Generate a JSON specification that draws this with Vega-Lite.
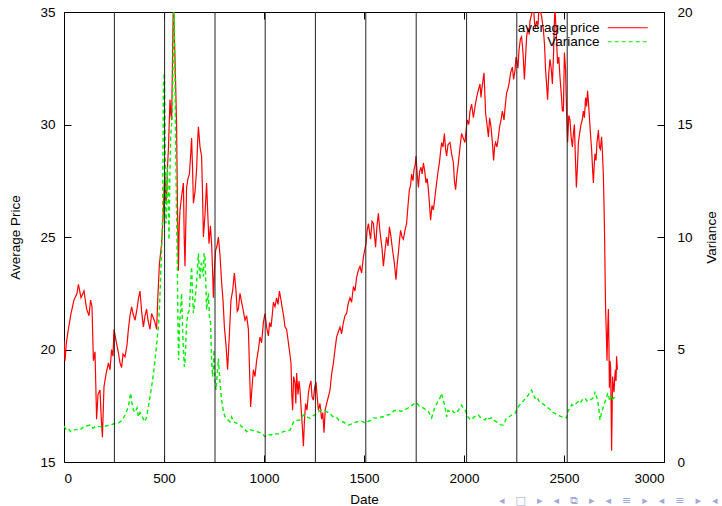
{
  "$schema": "https://vega.github.io/schema/vega-lite/v6.json",
  "width": 600,
  "height": 450,
  "autosize": "none",
  "padding": {"left": 64, "top": 12, "right": 58, "bottom": 44},
  "background": "white",
  "title": {
    "text": "◂\u2003□\u2003▸\u2003◂\u2003⧉\u2003▸\u2003◂\u2003≡\u2003▸\u2003◂\u2003≡\u2003▸\u2003◂",
    "orient": "bottom",
    "anchor": "end",
    "frame": "bounds",
    "offset": -11,
    "fontSize": 11,
    "fontWeight": "normal",
    "color": "#a3a9d6",
    "font": "DejaVu Sans"
  },
  "config": {
    "font": "Liberation Sans",
    "view": {"stroke": "black", "strokeWidth": 1},
    "axis": {
      "grid": false,
      "domain": false,
      "tickColor": "black",
      "tickSize": 7,
      "tickWidth": 1,
      "offset": -7,
      "labelFontSize": 13.5,
      "labelColor": "black",
      "titleFontSize": 13.5,
      "titleFontWeight": "normal",
      "titleColor": "black"
    },
    "legend": {
      "orient": "none",
      "legendX": 557,
      "legendY": 9,
      "title": null,
      "padding": 0,
      "rowPadding": -2,
      "symbolType": "M-4,0H4",
      "symbolSize": 100,
      "symbolStrokeWidth": 1.2,
      "labelAlign": "right",
      "labelOffset": -35,
      "labelFontSize": 13.5,
      "labelColor": "black"
    }
  },
  "datasets": {
    "price": [
      {"date":0,"price":20.4},{"date":5,"price":19.5},{"date":12,"price":20.3},{"date":20,"price":20.8},{"date":35,"price":21.6},{"date":50,"price":22.2},{"date":65,"price":22.5},{"date":72,"price":22.9},{"date":85,"price":22.3},{"date":100,"price":22.6},{"date":113,"price":21.8},{"date":125,"price":21.5},{"date":133,"price":22.2},{"date":140,"price":21.9},{"date":147,"price":19.5},{"date":155,"price":19.9},{"date":163,"price":16.9},{"date":170,"price":18.0},{"date":180,"price":18.2},{"date":186,"price":17.0},{"date":192,"price":16.1},{"date":200,"price":18.35},{"date":210,"price":18.9},{"date":222,"price":19.4},{"date":230,"price":19.1},{"date":238,"price":20.0},{"date":245,"price":19.7},{"date":250,"price":20.9},{"date":260,"price":20.4},{"date":272,"price":19.85},{"date":280,"price":19.4},{"date":288,"price":19.2},{"date":295,"price":19.8},{"date":305,"price":19.67},{"date":315,"price":20.2},{"date":322,"price":20.9},{"date":330,"price":21.5},{"date":338,"price":21.9},{"date":345,"price":21.6},{"date":355,"price":21.3},{"date":365,"price":21.8},{"date":373,"price":22.3},{"date":380,"price":22.6},{"date":388,"price":21.7},{"date":397,"price":21.0},{"date":405,"price":21.5},{"date":413,"price":21.8},{"date":420,"price":21.3},{"date":430,"price":20.9},{"date":438,"price":21.6},{"date":447,"price":21.4},{"date":455,"price":21.2},{"date":463,"price":20.9},{"date":470,"price":22.5},{"date":477,"price":23.8},{"date":483,"price":24.3},{"date":488,"price":24.7},{"date":493,"price":25.5},{"date":497,"price":26.2},{"date":501,"price":27.3},{"date":505,"price":27.7},{"date":509,"price":26.5},{"date":513,"price":26.8},{"date":518,"price":28.2},{"date":522,"price":28.9},{"date":526,"price":30.0},{"date":530,"price":31.1},{"date":534,"price":30.5},{"date":538,"price":30.2},{"date":542,"price":32.5},{"date":545,"price":34.5},{"date":547,"price":35.5},{"date":550,"price":34.8},{"date":553,"price":33.5},{"date":555,"price":32.9},{"date":559,"price":31.5},{"date":563,"price":29.9},{"date":567,"price":26.5},{"date":572,"price":23.5},{"date":576,"price":25.5},{"date":580,"price":26.2},{"date":588,"price":26.8},{"date":597,"price":27.4},{"date":601,"price":25.0},{"date":605,"price":23.7},{"date":609,"price":25.5},{"date":613,"price":27.2},{"date":620,"price":27.6},{"date":627,"price":27.8},{"date":633,"price":28.6},{"date":638,"price":29.4},{"date":643,"price":28.0},{"date":647,"price":26.5},{"date":655,"price":27.0},{"date":663,"price":28.0},{"date":668,"price":29.2},{"date":672,"price":29.9},{"date":680,"price":29.0},{"date":688,"price":28.6},{"date":693,"price":26.8},{"date":697,"price":25.0},{"date":705,"price":26.0},{"date":713,"price":27.4},{"date":719,"price":26.0},{"date":725,"price":24.7},{"date":732,"price":25.5},{"date":738,"price":24.7},{"date":743,"price":23.5},{"date":747,"price":22.3},{"date":752,"price":23.5},{"date":758,"price":24.4},{"date":765,"price":24.6},{"date":772,"price":25.0},{"date":780,"price":24.2},{"date":788,"price":23.0},{"date":795,"price":22.2},{"date":802,"price":21.0},{"date":810,"price":20.2},{"date":818,"price":19.1},{"date":826,"price":20.5},{"date":835,"price":22.2},{"date":843,"price":22.6},{"date":852,"price":23.4},{"date":860,"price":22.6},{"date":866,"price":21.7},{"date":872,"price":21.8},{"date":880,"price":22.5},{"date":888,"price":22.1},{"date":897,"price":21.7},{"date":905,"price":21.3},{"date":913,"price":21.5},{"date":922,"price":20.9},{"date":928,"price":19.0},{"date":933,"price":17.45},{"date":940,"price":18.3},{"date":947,"price":19.1},{"date":955,"price":18.8},{"date":963,"price":19.5},{"date":972,"price":20.0},{"date":980,"price":20.55},{"date":988,"price":20.3},{"date":997,"price":21.2},{"date":1005,"price":21.6},{"date":1013,"price":21.0},{"date":1022,"price":20.6},{"date":1028,"price":21.2},{"date":1035,"price":21.0},{"date":1041,"price":21.5},{"date":1047,"price":22.1},{"date":1055,"price":21.9},{"date":1063,"price":22.3},{"date":1070,"price":22.0},{"date":1077,"price":22.6},{"date":1085,"price":22.2},{"date":1092,"price":21.8},{"date":1098,"price":21.5},{"date":1105,"price":21.0},{"date":1113,"price":20.9},{"date":1122,"price":20.3},{"date":1128,"price":19.9},{"date":1135,"price":19.4},{"date":1139,"price":18.0},{"date":1143,"price":17.3},{"date":1148,"price":18.8},{"date":1155,"price":18.5},{"date":1159,"price":17.6},{"date":1163,"price":18.95},{"date":1170,"price":18.0},{"date":1175,"price":18.6},{"date":1180,"price":18.2},{"date":1187,"price":17.2},{"date":1192,"price":16.5},{"date":1197,"price":15.7},{"date":1202,"price":16.8},{"date":1208,"price":17.6},{"date":1215,"price":17.3},{"date":1222,"price":18.05},{"date":1228,"price":18.4},{"date":1235,"price":18.6},{"date":1240,"price":17.9},{"date":1247,"price":17.75},{"date":1253,"price":18.3},{"date":1260,"price":18.55},{"date":1266,"price":17.9},{"date":1272,"price":17.3},{"date":1280,"price":17.6},{"date":1288,"price":16.9},{"date":1294,"price":17.2},{"date":1300,"price":16.3},{"date":1306,"price":17.3},{"date":1313,"price":17.6},{"date":1322,"price":17.9},{"date":1330,"price":18.2},{"date":1338,"price":18.9},{"date":1347,"price":19.4},{"date":1355,"price":20.0},{"date":1363,"price":20.55},{"date":1372,"price":20.8},{"date":1380,"price":21.0},{"date":1388,"price":20.7},{"date":1397,"price":21.2},{"date":1405,"price":21.5},{"date":1413,"price":21.6},{"date":1420,"price":22.0},{"date":1430,"price":22.3},{"date":1438,"price":22.1},{"date":1447,"price":22.8},{"date":1455,"price":22.6},{"date":1463,"price":23.2},{"date":1471,"price":23.5},{"date":1480,"price":23.7},{"date":1488,"price":23.4},{"date":1497,"price":24.1},{"date":1503,"price":24.4},{"date":1510,"price":24.7},{"date":1516,"price":25.3},{"date":1522,"price":25.6},{"date":1528,"price":25.2},{"date":1533,"price":24.9},{"date":1540,"price":25.7},{"date":1547,"price":25.6},{"date":1553,"price":25.0},{"date":1558,"price":24.55},{"date":1565,"price":25.5},{"date":1572,"price":26.05},{"date":1578,"price":25.4},{"date":1583,"price":25.0},{"date":1590,"price":24.5},{"date":1597,"price":23.7},{"date":1605,"price":24.4},{"date":1613,"price":25.0},{"date":1620,"price":24.6},{"date":1627,"price":25.45},{"date":1635,"price":25.0},{"date":1643,"price":24.4},{"date":1651,"price":23.9},{"date":1660,"price":23.1},{"date":1666,"price":23.8},{"date":1672,"price":24.3},{"date":1678,"price":24.9},{"date":1683,"price":25.3},{"date":1690,"price":25.0},{"date":1697,"price":24.9},{"date":1705,"price":25.3},{"date":1713,"price":25.6},{"date":1720,"price":26.4},{"date":1727,"price":27.1},{"date":1733,"price":27.3},{"date":1738,"price":27.8},{"date":1745,"price":27.5},{"date":1750,"price":28.0},{"date":1756,"price":28.2},{"date":1760,"price":28.6},{"date":1766,"price":27.8},{"date":1772,"price":27.2},{"date":1778,"price":27.9},{"date":1785,"price":28.1},{"date":1791,"price":27.8},{"date":1797,"price":28.3},{"date":1804,"price":27.9},{"date":1810,"price":27.4},{"date":1816,"price":27.6},{"date":1822,"price":27.1},{"date":1828,"price":26.4},{"date":1833,"price":25.75},{"date":1840,"price":26.4},{"date":1847,"price":26.2},{"date":1855,"price":26.8},{"date":1863,"price":27.4},{"date":1870,"price":27.9},{"date":1877,"price":28.3},{"date":1883,"price":28.8},{"date":1888,"price":29.2},{"date":1895,"price":29.0},{"date":1902,"price":29.6},{"date":1908,"price":28.9},{"date":1913,"price":28.6},{"date":1920,"price":29.1},{"date":1930,"price":29.2},{"date":1938,"price":28.7},{"date":1947,"price":28.3},{"date":1952,"price":27.5},{"date":1958,"price":27.1},{"date":1965,"price":27.8},{"date":1972,"price":28.3},{"date":1980,"price":29.0},{"date":1988,"price":29.6},{"date":1996,"price":29.4},{"date":2005,"price":29.2},{"date":2011,"price":29.8},{"date":2017,"price":30.2},{"date":2024,"price":30.0},{"date":2030,"price":30.6},{"date":2038,"price":30.9},{"date":2047,"price":30.3},{"date":2055,"price":30.8},{"date":2063,"price":31.2},{"date":2071,"price":31.5},{"date":2080,"price":31.8},{"date":2085,"price":31.2},{"date":2088,"price":31.5},{"date":2094,"price":31.9},{"date":2100,"price":32.3},{"date":2105,"price":31.2},{"date":2108,"price":30.5},{"date":2115,"price":30.0},{"date":2122,"price":29.45},{"date":2128,"price":30.3},{"date":2135,"price":29.9},{"date":2142,"price":29.2},{"date":2148,"price":28.4},{"date":2153,"price":29.0},{"date":2158,"price":29.2},{"date":2165,"price":29.0},{"date":2172,"price":29.45},{"date":2178,"price":29.9},{"date":2185,"price":30.2},{"date":2192,"price":30.6},{"date":2200,"price":30.2},{"date":2207,"price":30.9},{"date":2213,"price":31.4},{"date":2220,"price":31.6},{"date":2225,"price":31.8},{"date":2233,"price":32.3},{"date":2242,"price":32.55},{"date":2248,"price":32.0},{"date":2255,"price":32.4},{"date":2260,"price":33.0},{"date":2263,"price":32.9},{"date":2270,"price":32.5},{"date":2275,"price":33.3},{"date":2282,"price":33.8},{"date":2288,"price":33.9},{"date":2295,"price":33.2},{"date":2302,"price":32.0},{"date":2308,"price":33.0},{"date":2313,"price":33.9},{"date":2320,"price":34.3},{"date":2326,"price":34.0},{"date":2330,"price":34.6},{"date":2338,"price":34.9},{"date":2347,"price":35.3},{"date":2353,"price":34.5},{"date":2358,"price":34.3},{"date":2363,"price":34.6},{"date":2370,"price":34.4},{"date":2375,"price":35.2},{"date":2380,"price":35.1},{"date":2388,"price":34.8},{"date":2397,"price":34.2},{"date":2403,"price":33.5},{"date":2408,"price":32.4},{"date":2413,"price":31.8},{"date":2418,"price":31.1},{"date":2424,"price":32.3},{"date":2430,"price":32.9},{"date":2436,"price":32.5},{"date":2442,"price":31.8},{"date":2448,"price":33.2},{"date":2452,"price":34.6},{"date":2455,"price":35.1},{"date":2460,"price":34.3},{"date":2468,"price":32.7},{"date":2474,"price":33.0},{"date":2480,"price":32.1},{"date":2486,"price":31.4},{"date":2492,"price":30.6},{"date":2497,"price":30.6},{"date":2502,"price":33.2},{"date":2508,"price":32.4},{"date":2513,"price":30.5},{"date":2518,"price":29.2},{"date":2524,"price":30.4},{"date":2530,"price":30.2},{"date":2536,"price":29.4},{"date":2542,"price":29.0},{"date":2547,"price":29.6},{"date":2552,"price":30.0},{"date":2557,"price":28.5},{"date":2562,"price":27.2},{"date":2567,"price":28.1},{"date":2572,"price":29.2},{"date":2578,"price":29.6},{"date":2585,"price":30.0},{"date":2591,"price":30.2},{"date":2597,"price":30.6},{"date":2602,"price":30.3},{"date":2608,"price":31.2},{"date":2613,"price":30.8},{"date":2618,"price":31.5},{"date":2623,"price":30.9},{"date":2628,"price":30.2},{"date":2633,"price":29.5},{"date":2638,"price":28.9},{"date":2643,"price":28.0},{"date":2647,"price":27.4},{"date":2651,"price":28.2},{"date":2655,"price":28.7},{"date":2660,"price":28.4},{"date":2665,"price":29.2},{"date":2672,"price":29.75},{"date":2677,"price":29.0},{"date":2682,"price":28.9},{"date":2688,"price":29.45},{"date":2693,"price":28.6},{"date":2697,"price":27.7},{"date":2700,"price":26.5},{"date":2703,"price":25.0},{"date":2706,"price":23.0},{"date":2708,"price":21.8},{"date":2712,"price":20.6},{"date":2715,"price":19.5},{"date":2719,"price":21.0},{"date":2722,"price":21.8},{"date":2725,"price":20.0},{"date":2727,"price":18.3},{"date":2730,"price":19.5},{"date":2733,"price":19.2},{"date":2736,"price":17.2},{"date":2738,"price":15.5},{"date":2741,"price":17.5},{"date":2743,"price":18.8},{"date":2747,"price":18.3},{"date":2750,"price":18.1},{"date":2754,"price":18.8},{"date":2757,"price":19.1},{"date":2760,"price":18.6},{"date":2763,"price":19.7},{"date":2767,"price":19.1}
    ],
    "variance": [
      {"date":0,"variance":1.6},{"date":10,"variance":1.45},{"date":20,"variance":1.5},{"date":33,"variance":1.35},{"date":45,"variance":1.4},{"date":60,"variance":1.45},{"date":80,"variance":1.42},{"date":95,"variance":1.55},{"date":110,"variance":1.6},{"date":130,"variance":1.64},{"date":145,"variance":1.5},{"date":160,"variance":1.6},{"date":180,"variance":1.57},{"date":195,"variance":1.55},{"date":210,"variance":1.6},{"date":230,"variance":1.64},{"date":250,"variance":1.7},{"date":272,"variance":1.73},{"date":290,"variance":1.85},{"date":305,"variance":2.09},{"date":315,"variance":2.3},{"date":322,"variance":2.46},{"date":328,"variance":2.8},{"date":333,"variance":3.07},{"date":340,"variance":2.6},{"date":347,"variance":2.31},{"date":355,"variance":2.2},{"date":365,"variance":2.4},{"date":372,"variance":2.01},{"date":380,"variance":2.2},{"date":388,"variance":2.09},{"date":397,"variance":1.9},{"date":405,"variance":1.79},{"date":413,"variance":2.0},{"date":422,"variance":2.46},{"date":430,"variance":2.9},{"date":438,"variance":3.35},{"date":447,"variance":3.9},{"date":455,"variance":4.53},{"date":463,"variance":5.2},{"date":472,"variance":6.01},{"date":478,"variance":7.0},{"date":483,"variance":8.24},{"date":488,"variance":9.5},{"date":493,"variance":10.9},{"date":497,"variance":16.7},{"date":502,"variance":17.3},{"date":506,"variance":13.5},{"date":510,"variance":10.6},{"date":514,"variance":11.5},{"date":517,"variance":13.1},{"date":521,"variance":12.0},{"date":525,"variance":9.87},{"date":529,"variance":12.5},{"date":533,"variance":14.4},{"date":538,"variance":15.0},{"date":542,"variance":15.6},{"date":546,"variance":18.0},{"date":550,"variance":20.5},{"date":554,"variance":18.0},{"date":558,"variance":14.2},{"date":562,"variance":11.5},{"date":567,"variance":8.53},{"date":570,"variance":6.0},{"date":573,"variance":4.53},{"date":578,"variance":6.2},{"date":583,"variance":6.76},{"date":588,"variance":7.5},{"date":593,"variance":5.87},{"date":598,"variance":4.8},{"date":602,"variance":4.23},{"date":605,"variance":4.4},{"date":613,"variance":6.17},{"date":620,"variance":6.6},{"date":627,"variance":6.76},{"date":633,"variance":7.9},{"date":638,"variance":8.68},{"date":643,"variance":7.4},{"date":647,"variance":6.61},{"date":655,"variance":7.2},{"date":663,"variance":7.95},{"date":668,"variance":8.7},{"date":672,"variance":9.28},{"date":676,"variance":8.6},{"date":680,"variance":8.1},{"date":684,"variance":8.8},{"date":688,"variance":8.83},{"date":693,"variance":8.4},{"date":697,"variance":8.24},{"date":700,"variance":9.28},{"date":705,"variance":9.1},{"date":709,"variance":8.0},{"date":713,"variance":6.76},{"date":718,"variance":7.2},{"date":722,"variance":7.5},{"date":727,"variance":6.5},{"date":733,"variance":6.17},{"date":738,"variance":4.5},{"date":743,"variance":3.79},{"date":747,"variance":4.2},{"date":750,"variance":4.98},{"date":755,"variance":3.6},{"date":760,"variance":3.2},{"date":766,"variance":3.9},{"date":772,"variance":4.6},{"date":778,"variance":3.8},{"date":783,"variance":3.2},{"date":788,"variance":2.76},{"date":796,"variance":2.3},{"date":805,"variance":2.01},{"date":815,"variance":1.9},{"date":822,"variance":1.85},{"date":830,"variance":1.78},{"date":838,"variance":2.0},{"date":845,"variance":1.85},{"date":855,"variance":1.75},{"date":863,"variance":1.73},{"date":872,"variance":1.73},{"date":885,"variance":1.6},{"date":900,"variance":1.5},{"date":913,"variance":1.35},{"date":925,"variance":1.45},{"date":938,"variance":1.42},{"date":950,"variance":1.38},{"date":965,"variance":1.35},{"date":980,"variance":1.3},{"date":997,"variance":1.2},{"date":1005,"variance":1.13},{"date":1020,"variance":1.22},{"date":1035,"variance":1.2},{"date":1047,"variance":1.27},{"date":1060,"variance":1.25},{"date":1072,"variance":1.25},{"date":1085,"variance":1.3},{"date":1097,"variance":1.35},{"date":1110,"variance":1.38},{"date":1122,"variance":1.4},{"date":1130,"variance":1.42},{"date":1140,"variance":1.6},{"date":1147,"variance":1.78},{"date":1155,"variance":1.78},{"date":1165,"variance":1.85},{"date":1180,"variance":1.87},{"date":1190,"variance":2.0},{"date":1197,"variance":2.09},{"date":1205,"variance":2.09},{"date":1215,"variance":2.0},{"date":1230,"variance":1.94},{"date":1245,"variance":2.05},{"date":1255,"variance":2.1},{"date":1263,"variance":2.17},{"date":1275,"variance":2.25},{"date":1285,"variance":2.3},{"date":1297,"variance":2.31},{"date":1310,"variance":2.25},{"date":1320,"variance":2.2},{"date":1330,"variance":2.17},{"date":1340,"variance":2.05},{"date":1350,"variance":2.0},{"date":1363,"variance":1.98},{"date":1375,"variance":1.85},{"date":1388,"variance":1.8},{"date":1397,"variance":1.78},{"date":1410,"variance":1.7},{"date":1422,"variance":1.64},{"date":1435,"variance":1.68},{"date":1447,"variance":1.73},{"date":1463,"variance":1.78},{"date":1475,"variance":1.8},{"date":1485,"variance":1.82},{"date":1495,"variance":1.78},{"date":1505,"variance":1.73},{"date":1520,"variance":1.8},{"date":1535,"variance":1.85},{"date":1547,"variance":1.96},{"date":1560,"variance":1.95},{"date":1575,"variance":1.98},{"date":1585,"variance":2.0},{"date":1597,"variance":2.01},{"date":1610,"variance":2.08},{"date":1625,"variance":2.1},{"date":1638,"variance":2.17},{"date":1650,"variance":2.28},{"date":1663,"variance":2.31},{"date":1675,"variance":2.28},{"date":1685,"variance":2.25},{"date":1697,"variance":2.31},{"date":1710,"variance":2.35},{"date":1720,"variance":2.4},{"date":1730,"variance":2.46},{"date":1745,"variance":2.55},{"date":1755,"variance":2.62},{"date":1763,"variance":2.64},{"date":1775,"variance":2.5},{"date":1788,"variance":2.44},{"date":1800,"variance":2.38},{"date":1813,"variance":2.31},{"date":1825,"variance":2.2},{"date":1832,"variance":2.05},{"date":1838,"variance":1.96},{"date":1846,"variance":2.2},{"date":1855,"variance":2.46},{"date":1865,"variance":2.6},{"date":1872,"variance":2.75},{"date":1880,"variance":2.84},{"date":1886,"variance":3.05},{"date":1892,"variance":2.9},{"date":1898,"variance":2.7},{"date":1905,"variance":2.45},{"date":1913,"variance":2.01},{"date":1920,"variance":2.3},{"date":1930,"variance":2.25},{"date":1938,"variance":2.31},{"date":1950,"variance":2.2},{"date":1963,"variance":2.16},{"date":1975,"variance":2.35},{"date":1988,"variance":2.53},{"date":1995,"variance":2.4},{"date":2005,"variance":2.3},{"date":2013,"variance":2.16},{"date":2020,"variance":2.0},{"date":2030,"variance":1.9},{"date":2038,"variance":1.87},{"date":2050,"variance":2.0},{"date":2060,"variance":2.05},{"date":2072,"variance":2.09},{"date":2085,"variance":1.95},{"date":2095,"variance":1.9},{"date":2105,"variance":1.87},{"date":2115,"variance":2.0},{"date":2125,"variance":1.92},{"date":2138,"variance":1.96},{"date":2150,"variance":1.85},{"date":2163,"variance":1.78},{"date":2175,"variance":1.7},{"date":2185,"variance":1.65},{"date":2197,"variance":1.64},{"date":2205,"variance":1.8},{"date":2213,"variance":1.96},{"date":2225,"variance":2.0},{"date":2240,"variance":2.1},{"date":2255,"variance":2.16},{"date":2265,"variance":2.35},{"date":2275,"variance":2.5},{"date":2288,"variance":2.62},{"date":2300,"variance":2.75},{"date":2310,"variance":2.85},{"date":2322,"variance":2.98},{"date":2330,"variance":3.1},{"date":2338,"variance":3.2},{"date":2346,"variance":3.0},{"date":2355,"variance":2.84},{"date":2365,"variance":2.9},{"date":2375,"variance":2.7},{"date":2388,"variance":2.62},{"date":2400,"variance":2.55},{"date":2410,"variance":2.45},{"date":2422,"variance":2.4},{"date":2435,"variance":2.3},{"date":2445,"variance":2.2},{"date":2455,"variance":2.16},{"date":2465,"variance":2.1},{"date":2478,"variance":2.05},{"date":2488,"variance":2.01},{"date":2497,"variance":2.01},{"date":2505,"variance":2.0},{"date":2513,"variance":1.96},{"date":2522,"variance":2.31},{"date":2530,"variance":2.35},{"date":2538,"variance":2.55},{"date":2548,"variance":2.5},{"date":2560,"variance":2.6},{"date":2572,"variance":2.68},{"date":2580,"variance":2.6},{"date":2590,"variance":2.75},{"date":2605,"variance":2.84},{"date":2615,"variance":2.7},{"date":2625,"variance":2.72},{"date":2630,"variance":2.76},{"date":2640,"variance":2.8},{"date":2650,"variance":2.9},{"date":2655,"variance":3.13},{"date":2662,"variance":2.9},{"date":2668,"variance":2.76},{"date":2675,"variance":2.3},{"date":2680,"variance":1.87},{"date":2688,"variance":2.2},{"date":2695,"variance":2.4},{"date":2705,"variance":2.68},{"date":2712,"variance":2.8},{"date":2718,"variance":3.05},{"date":2722,"variance":3.05},{"date":2728,"variance":2.7},{"date":2735,"variance":2.9},{"date":2741,"variance":2.75},{"date":2747,"variance":2.84},{"date":2755,"variance":2.9},{"date":2763,"variance":2.95}
    ],
    "years": [
      {"date":252},{"date":503},{"date":755},{"date":1006},{"date":1257},{"date":1509},{"date":1761},{"date":2013},{"date":2264},{"date":2516}
    ]
  },
  "layer": [
    {
      "data": {"name": "price"},
      "mark": {"type": "line", "strokeWidth": 1.2, "clip": true},
      "encoding": {
        "x": {"field": "date", "type": "quantitative", "scale": {"domain": [0, 3000], "nice": false},
              "axis": {"orient": "bottom", "title": "Date", "format": "d", "values": [0,500,1000,1500,2000,2500,3000], "labelPadding": 9, "titlePadding": 8}},
        "y": {"field": "price", "type": "quantitative", "scale": {"domain": [15, 35], "nice": false, "zero": false},
              "axis": {"orient": "left", "title": "Average Price", "values": [15,20,25,30,35], "labelPadding": 9, "titlePadding": 17}},
        "color": {"datum": "average price", "type": "nominal", "scale": {"domain": ["average price", "Variance"], "range": ["#ff0000", "#00ee00"]}},
        "strokeDash": {"datum": "average price", "type": "nominal", "scale": {"domain": ["average price", "Variance"], "range": [[1, 0], [4, 3]]}}
      }
    },
    {
      "data": {"name": "variance"},
      "mark": {"type": "line", "strokeWidth": 1.4, "clip": true},
      "encoding": {
        "x": {"field": "date", "type": "quantitative", "axis": null},
        "y": {"field": "variance", "type": "quantitative", "scale": {"domain": [0, 20], "nice": false},
              "axis": {"orient": "right", "title": "Variance", "values": [0,5,10,15,20], "labelPadding": 13, "titlePadding": 26, "titleAngle": 270}},
        "color": {"datum": "Variance", "type": "nominal"},
        "strokeDash": {"datum": "Variance", "type": "nominal"}
      }
    },
    {
      "data": {"name": "years"},
      "mark": {"type": "rule", "color": "#222222", "strokeWidth": 1},
      "encoding": {
        "x": {"field": "date", "type": "quantitative",
              "axis": {"orient": "top", "title": null, "labels": false, "values": [0,500,1000,1500,2000,2500,3000]}}
      }
    }
  ],
  "resolve": {"scale": {"y": "independent"}, "axis": {"x": "independent"}}
}
